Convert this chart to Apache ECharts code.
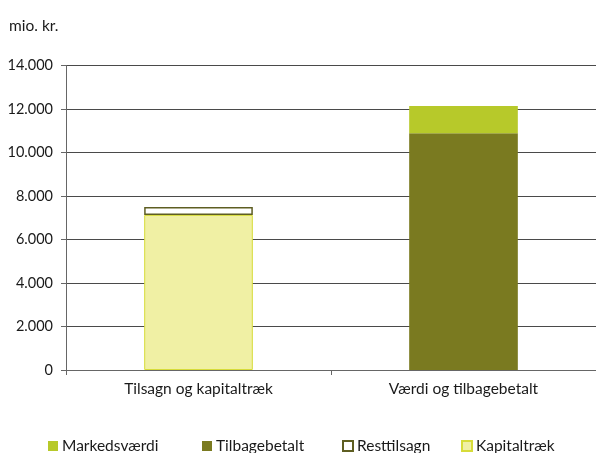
<!DOCTYPE html>
<html><head><meta charset="utf-8">
<script src="https://cdn.jsdelivr.net/npm/echarts@6/dist/echarts.min.js"></script>
<style>html,body{margin:0;padding:0;background:#fff}#c{width:596px;height:453px}</style>
</head><body><div id="c"></div>
<script>
const categories = ['Tilsagn og kapitaltræk', 'Værdi og tilbagebetalt'];
const kapitaltraek = [7130, null];
const resttilsagn = [370, null];
const tilbagebetalt = [null, 10880];
const markedsvaerdi = [null, 1260];
const yTicks = [0, 2000, 4000, 6000, 8000, 10000, 12000, 14000];

const FONT = 'Lato';
const chart = echarts.init(document.getElementById('c'));
function lg(name, left){
  return {data:[name], left:left, top:433, icon:'rect', itemWidth:10, itemHeight:10, itemGap:3,
    textStyle:{fontFamily:FONT, fontSize:15.5, color:'#1a1a1a', padding:[0,0,0,-1]}};
}
chart.setOption({
  animation:false,
  graphic:[{type:'text', left:9, top:18, style:{text:'mio. kr.', fontFamily:FONT, fontSize:15.5, fill:'#1a1a1a'}}],
  legend:[lg('Markedsværdi',43), lg('Tilbagebetalt',197), lg('Resttilsagn',337), lg('Kapitaltræk',456)],
  grid:{left:66, right:-2, top:65.5, bottom:83},
  xAxis:{type:'category', data:categories,
    axisLine:{lineStyle:{color:'#666', width:1}},
    axisTick:{show:true, length:5, lineStyle:{color:'#666'}},
    axisLabel:{fontFamily:FONT, fontSize:15.5, color:'#1a1a1a', margin:11}},
  yAxis:{type:'value', min:yTicks[0], max:yTicks[yTicks.length-1], interval:2000,
    axisLine:{show:true, lineStyle:{color:'#666'}},
    axisTick:{show:true, length:5, lineStyle:{color:'#666'}},
    splitLine:{lineStyle:{color:'#4a4a4a', width:1}},
    axisLabel:{fontFamily:FONT, fontSize:14.5, color:'#1a1a1a', margin:13,
      formatter:v=>v===0?'0':v.toLocaleString('de-DE')}},
  series:[
    {name:'Kapitaltræk', type:'bar', stack:'a', data:kapitaltraek, barWidth:'41%',
      itemStyle:{color:'#f0f0a4', borderColor:'#d7dc3a', borderWidth:1}},
    {name:'Tilbagebetalt', type:'bar', stack:'a', data:tilbagebetalt, barWidth:'41%',
      itemStyle:{color:'#7a7a20'}},
    {name:'Resttilsagn', type:'bar', stack:'a', data:resttilsagn, barWidth:'41%',
      itemStyle:{color:'#ffffff', borderColor:'#5e5e22', borderWidth:1.5}},
    {name:'Markedsværdi', type:'bar', stack:'a', data:markedsvaerdi, barWidth:'41%',
      itemStyle:{color:'#b7c92a'}}
  ]
});
</script></body></html>
